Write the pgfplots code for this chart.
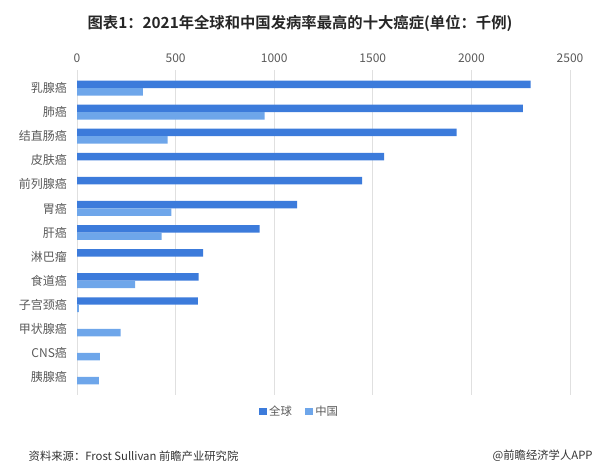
\documentclass[border=0pt]{standalone}
\usepackage{pgfplots}
\pgfplotsset{compat=1.18}
\usepackage{fontspec}
\setmainfont{Noto Sans CJK SC}
\newfontfamily\boldcjk{Noto Sans CJK SC Bold}
\definecolor{cglobal}{RGB}{60,123,219}
\definecolor{cchina}{RGB}{110,166,234}
\definecolor{ctext}{RGB}{89,89,89}
\begin{document}
\begin{tikzpicture}[x=1pt,y=1pt]
\path (0,0) rectangle (450,351.75);
\node[font=\boldcjk\fontsize{11.5}{13}\selectfont, text=black!85] at (225,334.5) {图表1：2021年全球和中国发病率最高的十大癌症(单位：千例)};
\node[font=\fontsize{8.5}{10}\selectfont, text=black!80, anchor=west] at (18,9.75) {资料来源：Frost Sullivan 前瞻产业研究院};
\node[font=\fontsize{8.5}{10}\selectfont, text=black!80, anchor=east] at (448,9.75) {@前瞻经济学人APP};
\begin{axis}[
  at={(57.75pt,55.5pt)}, anchor=south west,
  scale only axis, width=369.75pt, height=243.75pt,
  xbar, bar width=5.6pt,
  xmin=0, xmax=2500, ymin=-0.75, ymax=12.75,
  y dir=reverse,
  xtick={0,500,1000,1500,2000,2500},
  xticklabel pos=upper,
  ytick={0,...,12},
  yticklabels={乳腺癌,肺癌,结直肠癌,皮肤癌,前列腺癌,胃癌,肝癌,淋巴瘤,食道癌,子宫颈癌,甲状腺癌,CNS癌,胰腺癌},
  axis line style={draw=none},
  major tick length=0pt,
  xmajorgrids, major grid style={black!12, line width=0.6pt},
  tick label style={font=\fontsize{9}{11}\selectfont, text=ctext},
  /pgf/number format/assume math mode=true,
  /pgf/number format/1000 sep={},
  xticklabel style={yshift=2pt},
  yticklabel style={xshift=-4pt},
  legend style={at={(0.452,-0.05)}, anchor=center, draw=none, fill=none, legend columns=2, font=\fontsize{8.5}{10}\selectfont, text=ctext, /tikz/every even column/.append style={column sep=8pt}},
  legend image code/.code={\fill[#1] (0pt,-2.8pt) rectangle (5.6pt,2.8pt);},
]
\addplot[fill=cglobal, draw=none, bar shift=2.8pt] coordinates {
(2300,0) (2261,1) (1925,2) (1557,3) (1446,4) (1116,5) (926,6) (639,7) (617,8) (613,9)};
\addplot[fill=cchina, draw=none, bar shift=-2.8pt] coordinates {
(334,0) (951,1) (460,2) (479,5) (429,6) (295,8) (10,9) (221,10) (116,11) (111,12)};
\legend{全球,中国}
\end{axis}
\end{tikzpicture}
\end{document}
